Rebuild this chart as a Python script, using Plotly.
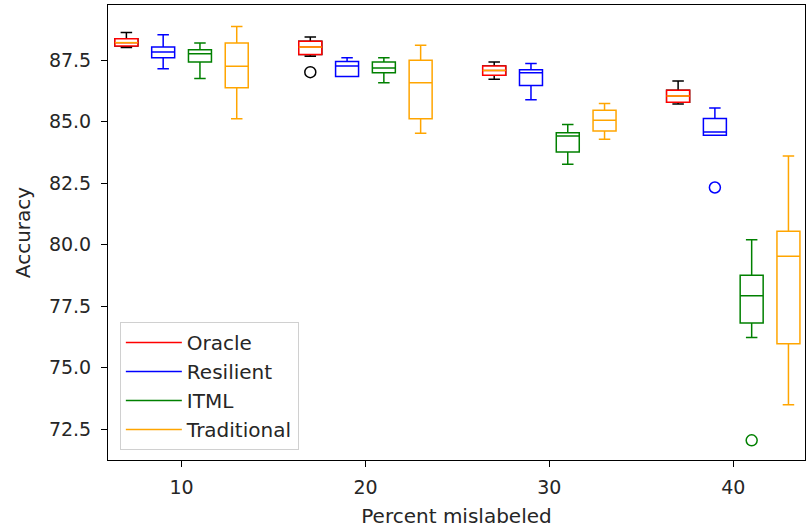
import plotly.graph_objects as go

# ---- data ----
pct = [10, 20, 30, 40]

oracle_lo  = [88.02, 87.67, 86.73, 85.72]
oracle_q1  = [88.08, 87.74, 86.89, 85.80]
oracle_med = [88.22, 88.04, 87.09, 86.05]
oracle_q3  = [88.38, 88.28, 87.27, 86.28]
oracle_hi  = [88.63, 88.45, 87.43, 86.66]
oracle_out_x = [20]
oracle_out_y = [87.02]

resilient_lo  = [87.16, 86.84, 85.90, 84.45]
resilient_q1  = [87.61, 86.84, 86.48, 84.45]
resilient_med = [87.84, 87.27, 87.00, 84.59]
resilient_q3  = [88.04, 87.45, 87.12, 85.14]
resilient_hi  = [88.54, 87.61, 87.37, 85.56]
resilient_out_x = [40]
resilient_out_y = [82.33]

itml_lo  = [86.76, 86.59, 83.27, 76.23]
itml_q1  = [87.43, 87.00, 83.77, 76.82]
itml_med = [87.77, 87.19, 84.42, 77.93]
itml_q3  = [87.93, 87.43, 84.56, 78.76]
itml_hi  = [88.20, 87.61, 84.89, 80.21]
itml_out_x = [40]
itml_out_y = [72.05]

trad_lo  = [85.13, 84.54, 84.29, 73.50]
trad_q1  = [86.39, 85.13, 84.63, 75.98]
trad_med = [87.26, 86.59, 85.06, 79.53]
trad_q3  = [88.20, 87.50, 85.47, 80.55]
trad_hi  = [88.88, 88.11, 85.74, 83.61]

series_names = ["Oracle", "Resilient", "ITML", "Traditional"]
series_colors = ["#ff0000", "#0000ff", "#008000", "#ffa500"]
y_ticks = [72.5, 75.0, 77.5, 80.0, 82.5, 85.0, 87.5]

# ---- layout constants ----
OFFSETS = [-3, -1, 1, 3]
BOX_W = 1.25
LW = 1.5
FONT = "DejaVu Sans, Arial, sans-serif"
TICK_FS = 19
TITLE_FS = 20
LEG_FS = 20
TXT = "#262626"

fig = go.Figure()

def pos(off):
    return [p + off for p in pct]

def add_box(x, lo, q1, med, q3, hi, color, whisker=0.5):
    fig.add_trace(go.Box(
        x=x, lowerfence=lo, q1=q1, median=med, q3=q3, upperfence=hi,
        width=BOX_W, whiskerwidth=whisker,
        line=dict(color=color, width=LW), fillcolor="rgba(0,0,0,0)",
        showlegend=False, hoverinfo="skip", boxpoints=False,
    ))

# Oracle: black whiskers/caps, red box, orange median
xo = pos(OFFSETS[0])
add_box(xo, oracle_lo, oracle_q1, oracle_med, oracle_q3, oracle_hi, "#000000")
fig.add_trace(go.Box(
    x=xo, lowerfence=oracle_q1, q1=oracle_q1, median=oracle_med, q3=oracle_q3,
    upperfence=oracle_q3, width=BOX_W, whiskerwidth=0,
    line=dict(color="#ff0000", width=LW), fillcolor="white",
    showlegend=False, hoverinfo="skip", boxpoints=False,
))
mx, my = [], []
for xc, m in zip(xo, oracle_med):
    mx += [xc - BOX_W / 2, xc + BOX_W / 2, None]
    my += [m, m, None]
fig.add_trace(go.Scatter(x=mx, y=my, mode="lines", line=dict(color="#ffa500", width=LW),
                         showlegend=False, hoverinfo="skip"))

add_box(pos(OFFSETS[1]), resilient_lo, resilient_q1, resilient_med, resilient_q3, resilient_hi, series_colors[1])
add_box(pos(OFFSETS[2]), itml_lo, itml_q1, itml_med, itml_q3, itml_hi, series_colors[2])
add_box(pos(OFFSETS[3]), trad_lo, trad_q1, trad_med, trad_q3, trad_hi, series_colors[3])

# outliers
for ox, oy, off, col in [(oracle_out_x, oracle_out_y, OFFSETS[0], "#000000"),
                         (resilient_out_x, resilient_out_y, OFFSETS[1], series_colors[1]),
                         (itml_out_x, itml_out_y, OFFSETS[2], series_colors[2])]:
    fig.add_trace(go.Scatter(
        x=[v + off for v in ox], y=oy, mode="markers",
        marker=dict(symbol="circle-open", size=11, color=col, line=dict(width=LW, color=col)),
        showlegend=False, hoverinfo="skip"))

# legend entries (lines, like matplotlib handles)
for name, col in zip(series_names, series_colors):
    fig.add_trace(go.Scatter(x=[None], y=[None], mode="lines", name=name,
                             line=dict(color=col, width=LW)))

fig.update_layout(
    width=812, height=531,
    margin=dict(l=108, r=7, t=5, b=71),
    paper_bgcolor="white", plot_bgcolor="white",
    boxmode="overlay",
    font=dict(family=FONT, size=TICK_FS, color=TXT),
    legend=dict(x=0.017, y=0.022, xanchor="left", yanchor="bottom",
                bordercolor="#d0d0d0", borderwidth=1, bgcolor="rgba(255,255,255,0.8)",
                itemwidth=56,
                font=dict(family=FONT, size=LEG_FS, color=TXT)),
    xaxis=dict(range=[6.0, 43.9], tickvals=pct, ticktext=[str(p) for p in pct],
               showgrid=False, zeroline=False, showline=True, mirror=True,
               linecolor="black", linewidth=1, ticks="outside", ticklen=6,
               tickcolor="black", ticklabelstandoff=4,
               tickfont=dict(size=TICK_FS),
               title=dict(text="Percent mislabeled", standoff=12,
                          font=dict(size=TITLE_FS))),
    yaxis=dict(range=[71.25, 89.75], tickvals=y_ticks,
               ticktext=[f"{v:.1f}" for v in y_ticks],
               showgrid=False, zeroline=False, showline=True, mirror=True,
               linecolor="black", linewidth=1, ticks="outside", ticklen=6,
               tickcolor="black", ticklabelstandoff=6,
               tickfont=dict(size=TICK_FS),
               title=dict(text="Accuracy", standoff=12, font=dict(size=TITLE_FS))),
)

fig.write_html("out.html")
